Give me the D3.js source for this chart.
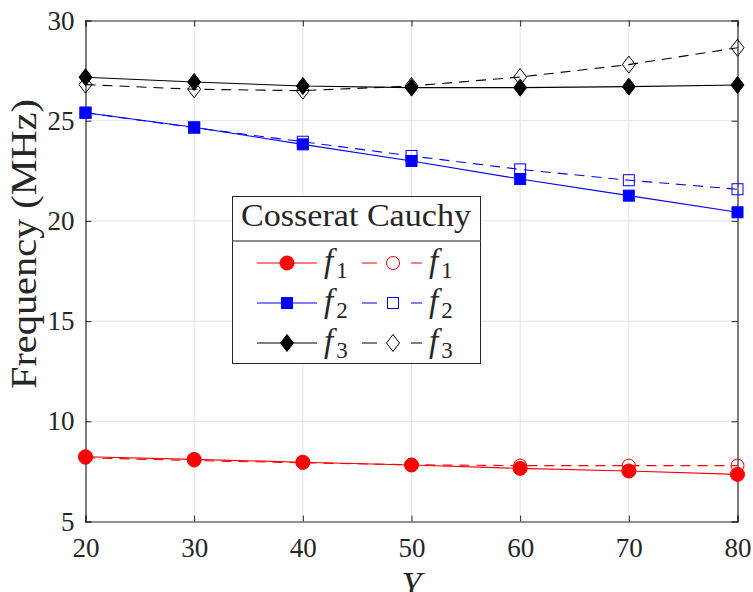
<!DOCTYPE html>
<html>
<head>
<meta charset="utf-8">
<script src="https://cdn.jsdelivr.net/npm/d3@7"></script>
<style>
  body { margin: 0; background: #fff; }
  svg { display: block; }
  text { font-family: "Liberation Serif", "Times New Roman", serif; fill: #262626; }
</style>
</head>
<body>
<div id="chart"></div>
<script>
// Data
const yValues = [20, 30, 40, 50, 60, 70, 80];
const cosseratF1 = [8.23, 8.10, 7.96, 7.82, 7.65, 7.52, 7.35];
const cauchyF1 = [8.18, 8.04, 7.93, 7.83, 7.79, 7.79, 7.79];
const cosseratF2 = [25.40, 24.67, 23.82, 22.99, 22.09, 21.26, 20.43];
const cauchyF2 = [25.40, 24.65, 23.95, 23.24, 22.57, 22.03, 21.58];
const cosseratF3 = [27.17, 26.93, 26.73, 26.65, 26.65, 26.70, 26.78];
const cauchyF3 = [26.80, 26.57, 26.50, 26.73, 27.18, 27.80, 28.64];

const xTicks = [20, 30, 40, 50, 60, 70, 80];
const yTicks = [5, 10, 15, 20, 25, 30];

const serif = "'Liberation Serif', 'Times New Roman', serif";

const svgWidth = 753;
const svgHeight = 592;
const margin = { top: 20.5, right: 15.5, bottom: 70.5, left: 85.5 };
const width = svgWidth - margin.left - margin.right;
const height = svgHeight - margin.top - margin.bottom;

const svg = d3.select("#chart")
  .append("svg")
  .attr("width", svgWidth)
  .attr("height", svgHeight)
  .attr("font-family", serif);

const x = d3.scaleLinear().domain([20, 80]).range([margin.left, margin.left + width]);
const y = d3.scaleLinear().domain([5, 30]).range([margin.top + height, margin.top]);

// grid
const grid = svg.append("g").attr("stroke", "#e3e3e3").attr("stroke-width", 1);
grid.selectAll(".vg").data(xTicks.slice(1, -1)).enter().append("line")
  .attr("x1", d => x(d)).attr("x2", d => x(d))
  .attr("y1", y(5)).attr("y2", y(30));
grid.selectAll(".hg").data(yTicks.slice(1, -1)).enter().append("line")
  .attr("y1", d => y(d)).attr("y2", d => y(d))
  .attr("x1", x(20)).attr("x2", x(80));

// axes (ticks inside, box on all sides)
const tickLen = 6;
const xAxisBottom = svg.append("g")
  .attr("transform", `translate(0, ${y(5)})`)
  .call(d3.axisBottom(x).tickValues(xTicks).tickSize(-tickLen).tickPadding(16));
const xAxisTop = svg.append("g")
  .attr("transform", `translate(0, ${y(30)})`)
  .call(d3.axisTop(x).tickValues(xTicks).tickSize(-tickLen).tickFormat(""));
const yAxisLeft = svg.append("g")
  .attr("transform", `translate(${x(20)}, 0)`)
  .call(d3.axisLeft(y).tickValues(yTicks).tickSize(-tickLen).tickPadding(11));
const yAxisRight = svg.append("g")
  .attr("transform", `translate(${x(80)}, 0)`)
  .call(d3.axisRight(y).tickValues(yTicks).tickSize(-tickLen).tickFormat(""));

[xAxisBottom, xAxisTop, yAxisLeft, yAxisRight].forEach(a => {
  a.attr("font-family", serif);
  a.select(".domain").attr("stroke", "#262626").attr("stroke-width", 1.2);
  a.selectAll(".tick line").attr("stroke", "#262626");
  a.selectAll("text").attr("font-size", 27).attr("fill", "#262626")
    .style("font-family", serif);
});

// axis labels
svg.append("text")
  .attr("transform", `translate(36, 244) rotate(-90)`)
  .attr("text-anchor", "middle")
  .attr("font-size", 36)
  .attr("textLength", 290)
  .attr("lengthAdjust", "spacingAndGlyphs")
  .text("Frequency (MHz)");

svg.append("text")
  .attr("x", (x(20) + x(80)) / 2)
  .attr("y", 597)
  .attr("text-anchor", "middle")
  .attr("font-size", 36)
  .attr("font-style", "italic")
  .text("Y");

// series
const series = [
  { vals: cauchyF1, color: "#ff0000", dashed: true, marker: "circle" },
  { vals: cauchyF2, color: "#0000ff", dashed: true, marker: "square" },
  { vals: cauchyF3, color: "#000000", dashed: true, marker: "diamond" },
  { vals: cosseratF1, color: "#ff0000", dashed: false, marker: "circle" },
  { vals: cosseratF2, color: "#0000ff", dashed: false, marker: "square" },
  { vals: cosseratF3, color: "#000000", dashed: false, marker: "diamond" }
];

function drawMarker(g, type, cx, cy, color, filled) {
  let m;
  if (type === "circle") {
    m = g.append("circle").attr("cx", cx).attr("cy", cy).attr("r", filled ? 7 : 6.5);
  } else if (type === "square") {
    m = g.append("rect").attr("x", cx - 5.5).attr("y", cy - 5.5).attr("width", 11).attr("height", 11);
  } else {
    m = g.append("path").attr("d", `M${cx},${cy - 8.5}L${cx + 6.5},${cy}L${cx},${cy + 8.5}L${cx - 6.5},${cy}Z`);
  }
  m.attr("fill", filled ? color : "none")
    .attr("stroke", color)
    .attr("stroke-width", 1);
}

const line = d3.line().x((d, i) => x(yValues[i])).y(d => y(d));
const plot = svg.append("g");

series.forEach(s => {
  plot.append("path")
    .datum(s.vals)
    .attr("d", line)
    .attr("fill", "none")
    .attr("stroke", s.color)
    .attr("stroke-width", 1.1)
    .attr("stroke-dasharray", s.dashed ? "10,7" : null);
  s.vals.forEach((v, i) => drawMarker(plot, s.marker, x(yValues[i]), y(v), s.color, !s.dashed));
});

// legend
const legend = svg.append("g");
legend.append("rect")
  .attr("x", 232.5).attr("y", 196.5).attr("width", 248).attr("height", 167)
  .attr("fill", "#fff").attr("stroke", "#262626").attr("stroke-width", 1);
legend.append("line")
  .attr("x1", 232.5).attr("x2", 480.5).attr("y1", 241).attr("y2", 241)
  .attr("stroke", "#666").attr("stroke-width", 1.5);
legend.append("text")
  .attr("x", 356).attr("y", 226)
  .attr("text-anchor", "middle")
  .attr("font-size", 32)
  .attr("textLength", 230)
  .attr("lengthAdjust", "spacingAndGlyphs")
  .attr("fill", "#000")
  .text("Cosserat Cauchy");

const legendRows = [
  { color: "#ff0000", marker: "circle", sub: "1" },
  { color: "#0000ff", marker: "square", sub: "2" },
  { color: "#000000", marker: "diamond", sub: "3" }
];

legendRows.forEach((r, i) => {
  const cy = 263 + i * 40;
  legend.append("line").attr("x1", 257).attr("x2", 317).attr("y1", cy).attr("y2", cy)
    .attr("stroke", r.color).attr("stroke-width", 1.1);
  drawMarker(legend, r.marker, 287, cy, r.color, true);
  legend.append("line").attr("x1", 362).attr("x2", 422).attr("y1", cy).attr("y2", cy)
    .attr("stroke", r.color).attr("stroke-width", 1.1).attr("stroke-dasharray", "15,34");
  drawMarker(legend, r.marker, 393, cy, r.color, false);

  [324, 429].forEach(lx => {
    const t = legend.append("text").attr("x", lx).attr("y", cy + 9)
      .attr("font-size", 33).attr("fill", "#000");
    t.append("tspan").attr("font-style", "italic").text("f");
    t.append("tspan").attr("font-size", 23).attr("dx", 3).attr("dy", 6).text(r.sub);
  });
});
</script>
</body>
</html>
